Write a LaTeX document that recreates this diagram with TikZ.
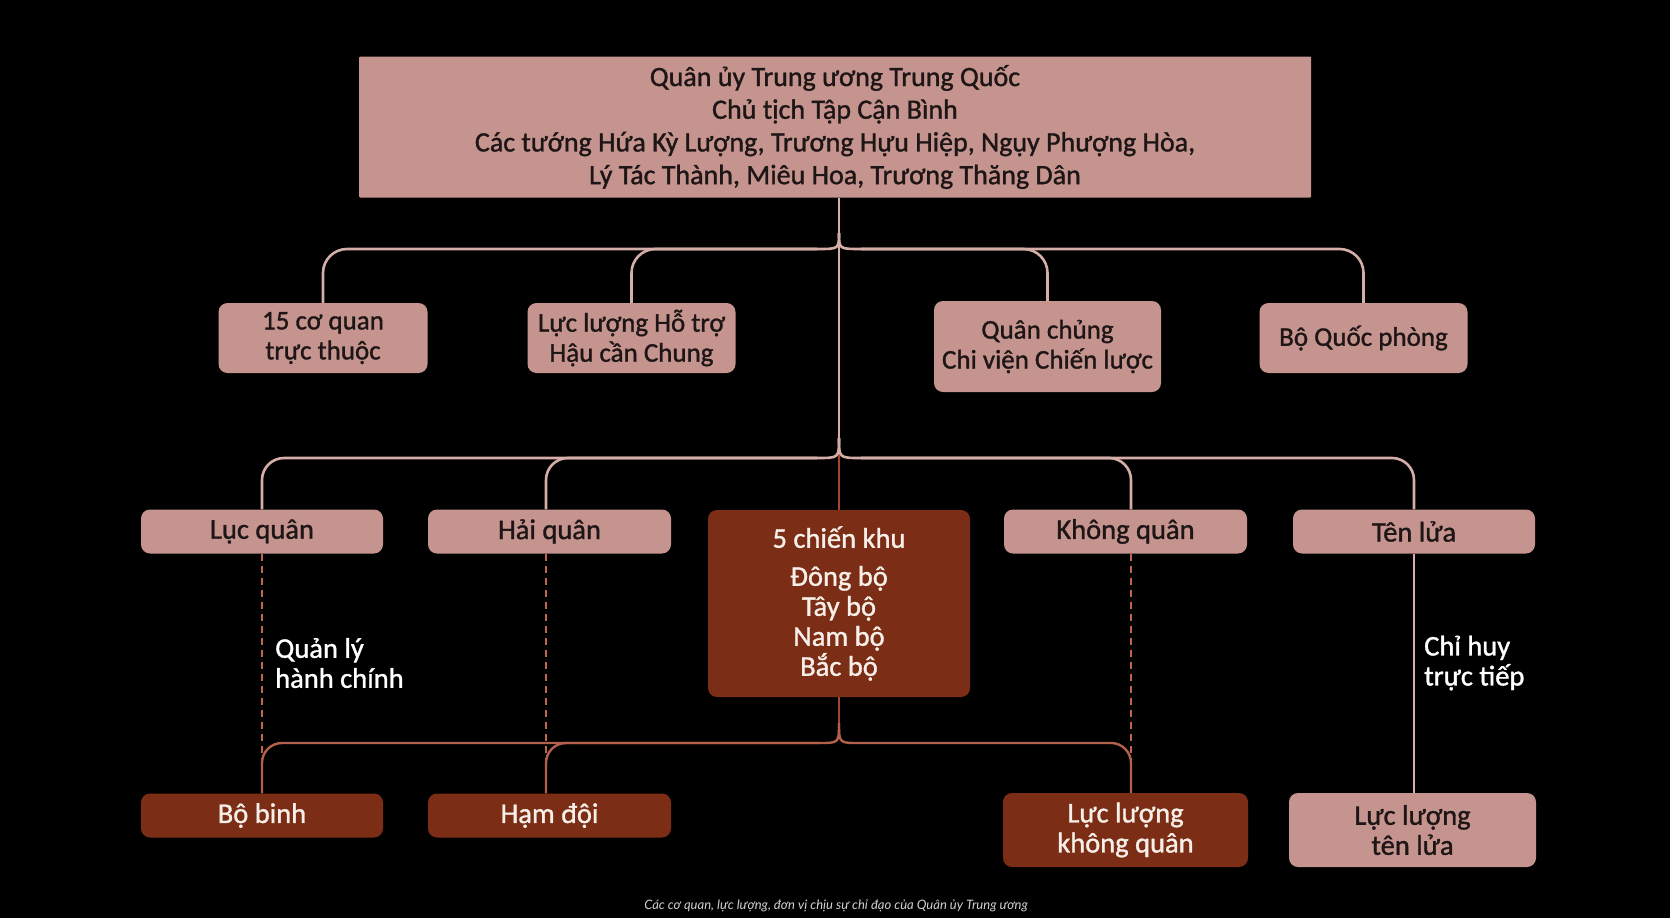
\documentclass[tikz,border=0pt]{standalone}
\usepackage{fontspec}
\setmainfont{Carlito}[RawFeature={embolden=1.2}]
\newfontfamily\capfont{Lato}
\definecolor{pinkfill}{HTML}{C5948E}
\definecolor{rustfill}{HTML}{7B2D16}
\definecolor{darktext}{HTML}{1E1616}
\definecolor{lighttext}{HTML}{F7EFE8}
\definecolor{lpink}{HTML}{D4AEA7}
\definecolor{rustline}{HTML}{A5462E}
\definecolor{lowline}{HTML}{B2614D}
\definecolor{dashcol}{HTML}{C06650}
\begin{document}
\begin{tikzpicture}[x=1pt,y=-1pt,
  pbox/.style={fill=pinkfill, rounded corners=9pt, text=darktext, align=center, inner sep=0pt,
    font=\fontsize{28.5}{30}\selectfont},
  sbox/.style={pbox, font=\fontsize{27}{30}\selectfont},
  dbox/.style={pbox, fill=rustfill, text=lighttext},
  conn/.style={draw=lpink, line width=2.6pt},
  rconn/.style={draw=rustline, line width=2.6pt},
  lconn/.style={draw=lowline, line width=2.4pt},
  dconn/.style={draw=dashcol, line width=2pt, dash pattern=on 7pt off 5pt},
  lbl/.style={text=white, align=left, inner sep=0pt, anchor=west, font=\fontsize{28.5}{30}\selectfont},
]
\fill[black] (0,0) rectangle (1670,918);
\useasboundingbox (0,0) rectangle (1670,918);

% top
\node[pbox, rounded corners=1pt, minimum width=952pt, minimum height=141pt,
  font=\fontsize{28}{32.7}\selectfont] (top) at (835,127)
  {Quân ủy Trung ương Trung Quốc\\Chủ tịch Tập Cận Bình\\Các tướng Hứa Kỳ Lượng, Trương Hựu Hiệp, Ngụy Phượng Hòa,\\Lý Tác Thành, Miêu Hoa, Trương Thăng Dân};

% level 2
\node[sbox, minimum width=209pt, minimum height=70pt] (a) at (323,338) {15 cơ quan\\trực thuộc};
\node[sbox, minimum width=208pt, minimum height=70pt] (b) at (631.5,338) {Lực lượng Hỗ trợ\\Hậu cần Chung};
\node[sbox, minimum width=227pt, minimum height=91pt] (c) at (1047.5,346.5) {Quân chủng\\Chi viện Chiến lược};
\node[sbox, minimum width=208pt, minimum height=70pt] (d) at (1363.5,338) {Bộ Quốc phòng};

% level 3
\node[pbox, minimum width=242pt, minimum height=44pt] (lq) at (262,531.5) {Lục quân};
\node[pbox, minimum width=243pt, minimum height=44pt] (hq) at (549.5,531.5) {Hải quân};
\node[dbox, minimum width=262pt, minimum height=187pt] (ck) at (839,603.5)
  {5 chiến khu\\[8pt]Đông bộ\\Tây bộ\\Nam bộ\\Bắc bộ};
\node[pbox, minimum width=243pt, minimum height=44pt] (kq) at (1125.5,531.5) {Không quân};
\node[pbox, minimum width=242pt, minimum height=44pt] (tl) at (1414,531.5) {Tên lửa};

% level 4
\node[dbox, minimum width=242pt, minimum height=44pt] (bb) at (262,815.5) {Bộ binh};
\node[dbox, minimum width=243pt, minimum height=44pt] (hd) at (549.5,815.5) {Hạm đội};
\node[dbox, minimum width=245pt, minimum height=74pt] (llkq) at (1125.5,830) {Lực lượng\\không quân};
\node[pbox, minimum width=247pt, minimum height=74pt] (lltl) at (1412.5,830) {Lực lượng\\tên lửa};

% labels
\node[lbl] (ql) at (275,663) {Quản lý\\hành chính};
\node[lbl] (ch) at (1424,663) {Chỉ huy\\trực tiếp};

% caption
\node[text=white!82!black, inner sep=0pt, font=\capfont\itshape\fontsize{13}{15}\selectfont] (cap) at (836,906)
  {Các cơ quan, lực lượng, đơn vị chịu sự chỉ đạo của Quân ủy Trung ương};

% guide coordinates
\coordinate (t1) at (839,233);
\coordinate (t1l) at (817,249);
\coordinate (t1r) at (861,249);
\coordinate (t2) at (839,438);
\coordinate (t2l) at (817,458);
\coordinate (t2r) at (861,458);
\coordinate (t3) at (839,723);
\coordinate (t3l) at (819,743);
\coordinate (t3r) at (859,743);
\coordinate (hqx) at (546,0);
\coordinate (kqx) at (1131,0);

% dashed (drawn first)
\draw[dconn] (lq.south) -- (bb.north);
\draw[dconn] (hq.south -| hqx) -- (hd.north -| hqx);
\draw[dconn] (kq.south -| kqx) -- (llkq.north -| kqx);

% trunk
\draw[conn] (top.south -| t1) -- (t2);
\draw[rconn] (t2) -- (ck.north);
\draw[rconn] (ck.south) -- (t3);

% level 2 branches
\draw[conn] (t1) .. controls (839,249) .. (t1l);
\draw[conn] (t1) .. controls (839,249) .. (t1r);
\draw[conn, rounded corners=24pt] (t1l) -| (a.north);
\draw[conn, rounded corners=24pt] (t1l) -| (b.north);
\draw[conn, rounded corners=24pt] (t1r) -| (c.north);
\draw[conn, rounded corners=24pt] (t1r) -| (d.north);

% level 3 branches
\draw[conn] (t2) .. controls (839,458) .. (t2l);
\draw[conn] (t2) .. controls (839,458) .. (t2r);
\draw[conn, rounded corners=22pt] (t2l) -| (lq.north);
\draw[conn, rounded corners=22pt] (t2l) -| (hq.north -| hqx);
\draw[conn, rounded corners=22pt] (t2r) -| (kq.north -| kqx);
\draw[conn, rounded corners=22pt] (t2r) -| (tl.north);

% level 4 branches
\draw[lconn] (t3) .. controls (839,743) .. (t3l);
\draw[lconn] (t3) .. controls (839,743) .. (t3r);
\draw[lconn, rounded corners=20pt] (t3l) -| (bb.north);
\draw[lconn, rounded corners=20pt] (t3l) -| (hd.north -| hqx);
\draw[lconn, rounded corners=20pt] (t3r) -| (llkq.north -| kqx);

% direct command
\draw[conn] (tl.south) -- (lltl.north -| tl.south);
\end{tikzpicture}
\end{document}
